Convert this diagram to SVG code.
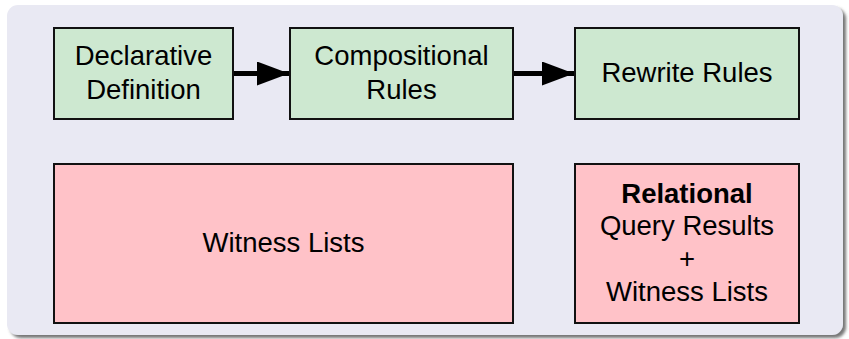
<svg xmlns="http://www.w3.org/2000/svg" width="849" height="339" viewBox="0 0 849 339">
  <defs>
    <filter id="shadow" x="-5%" y="-5%" width="112%" height="115%">
      <feDropShadow dx="3" dy="3" stdDeviation="1.5" flood-color="#555" flood-opacity="0.8"/>
    </filter>
    <marker id="arrow" markerUnits="userSpaceOnUse" markerWidth="34" markerHeight="26" refX="32" refY="12" orient="auto">
      <path d="M0,0 L32,12 L0,24 Z" fill="#000"/>
    </marker>
  </defs>
  <style>
    .panel { fill: #e9e9f3; }
    .green { fill: #cde8d0; stroke: #111; stroke-width: 2; }
    .pink { fill: #ffc2c8; stroke: #111; stroke-width: 2; }
    .lbl { font-family: "Liberation Sans", Arial, Helvetica, sans-serif; font-size: 27.5px; fill: #000; text-anchor: middle; }
    .bold { font-weight: bold; }
    .conn { stroke: #000; stroke-width: 5; fill: none; marker-end: url(#arrow); }
  </style>
  <rect class="panel" x="7" y="5" width="836" height="330" rx="11" ry="11" filter="url(#shadow)"/>

  <g id="declarative">
    <rect class="green" x="54" y="28" width="179" height="91"/>
    <text class="lbl" x="143.5" y="65">Declarative</text>
    <text class="lbl" x="143.5" y="99">Definition</text>
  </g>
  <g id="compositional">
    <rect class="green" x="290" y="28" width="223" height="91"/>
    <text class="lbl" x="401.5" y="65">Compositional</text>
    <text class="lbl" x="401.5" y="99">Rules</text>
  </g>
  <g id="rewrite">
    <rect class="green" x="575" y="28" width="224" height="91"/>
    <text class="lbl" x="687" y="82">Rewrite Rules</text>
  </g>
  <g id="witness">
    <rect class="pink" x="54" y="164" width="459" height="159"/>
    <text class="lbl" x="283.5" y="252">Witness Lists</text>
  </g>
  <g id="relational">
    <rect class="pink" x="575" y="164" width="224" height="159"/>
    <text class="lbl bold" x="687" y="203">Relational</text>
    <text class="lbl" x="687" y="235">Query Results</text>
    <text class="lbl" x="687" y="268">+</text>
    <text class="lbl" x="687" y="301">Witness Lists</text>
  </g>

  <g id="connectors">
    <line class="conn" x1="234" y1="73.5" x2="289" y2="73.5"/>
    <line class="conn" x1="514" y1="73.5" x2="574" y2="73.5"/>
  </g>
</svg>
